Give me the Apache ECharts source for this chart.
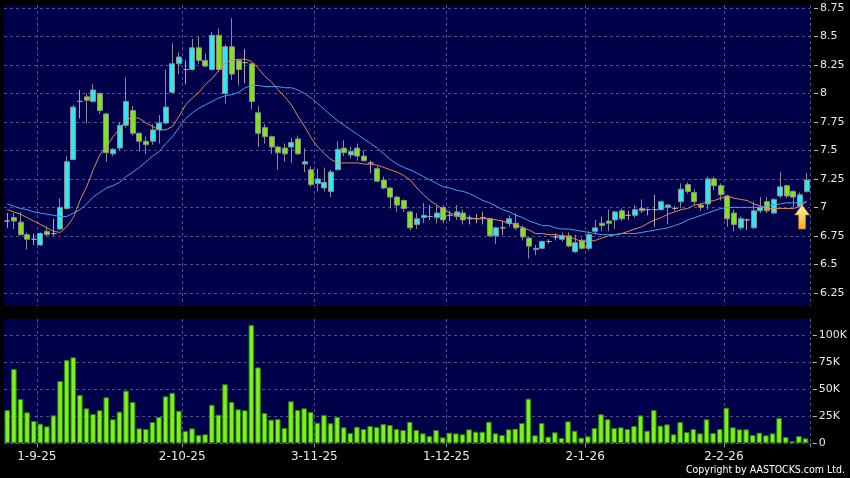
<!DOCTYPE html>
<html>
<head>
<meta charset="utf-8">
<title>Daily chart</title>
<script src="https://cdn.jsdelivr.net/npm/echarts@6/dist/echarts.min.js"></script>
<style>
  html, body { margin: 0; padding: 0; background: #000; }
  #chart { width: 850px; height: 478px; }
</style>
</head>
<body>
<div id="chart"></div>
<script>
// trading days (D-M-YY), 25-8-25 .. 23-2-26
const dates = [
  '25-8-25','26-8-25','27-8-25','28-8-25','29-8-25',
  '1-9-25','2-9-25','3-9-25','4-9-25','5-9-25','8-9-25','9-9-25','10-9-25','11-9-25','12-9-25',
  '15-9-25','16-9-25','17-9-25','18-9-25','19-9-25','22-9-25','23-9-25','24-9-25','25-9-25','26-9-25',
  '29-9-25','30-9-25',
  '2-10-25','3-10-25','6-10-25','8-10-25','9-10-25','10-10-25','13-10-25','14-10-25','15-10-25','16-10-25',
  '17-10-25','20-10-25','21-10-25','22-10-25','23-10-25','24-10-25','27-10-25','28-10-25','30-10-25','31-10-25',
  '3-11-25','4-11-25','5-11-25','6-11-25','7-11-25','10-11-25','11-11-25','12-11-25','13-11-25','14-11-25',
  '17-11-25','18-11-25','19-11-25','20-11-25','21-11-25','24-11-25','25-11-25','26-11-25','27-11-25','28-11-25',
  '1-12-25','2-12-25','3-12-25','4-12-25','5-12-25','8-12-25','9-12-25','10-12-25','11-12-25','12-12-25',
  '15-12-25','16-12-25','17-12-25','18-12-25','19-12-25','22-12-25','23-12-25','24-12-25','29-12-25','30-12-25',
  '31-12-25',
  '2-1-26','5-1-26','6-1-26','7-1-26','8-1-26','9-1-26','12-1-26','13-1-26','14-1-26','15-1-26',
  '16-1-26','19-1-26','20-1-26','21-1-26','22-1-26','23-1-26','26-1-26','27-1-26','28-1-26','29-1-26',
  '30-1-26',
  '2-2-26','3-2-26','4-2-26','5-2-26','6-2-26','9-2-26','10-2-26','11-2-26','12-2-26','13-2-26',
  '16-2-26','20-2-26','23-2-26'
];
const tickDates = ['1-9-25', '2-10-25', '3-11-25', '1-12-25', '2-1-26', '2-2-26'];

const opens = [
  6.88,6.91,6.87,6.76,6.72,6.67,6.79,6.77,6.81,6.99, 7.42,7.93,7.97,7.93,8.00,7.82,7.47,7.52,7.72,7.85,
  7.65,7.58,7.58,7.68,7.74,8.01,8.26,8.21,8.21,8.40, 8.29,8.21,8.51,8.00,8.41,8.29,8.27,8.26,7.83,7.70,
  7.62,7.53,7.52,7.53,7.60,7.38,7.33,7.21,7.17,7.14, 7.33,7.52,7.46,7.52,7.45,7.39,7.34,7.24,7.17,7.09,
  7.06,6.96,6.85,6.91,6.92,6.91,7.00,6.93,6.92,6.95, 6.90,6.90,6.91,6.90,6.75,6.82,6.86,6.86,6.82,6.73,
  6.63,6.64,6.70,6.74,6.72,6.75,6.61,6.71,6.64,6.79, 6.86,6.88,6.89,6.97,6.93,6.93,6.99,6.98,6.98,6.98,
  7.00,6.99,7.05,7.20,7.13,7.02,7.03,7.25,7.19,7.10, 6.95,6.82,6.89,6.82,6.97,7.05,6.95,7.10,7.19,7.14,
  7.01,7.14
];
const closes = [
  6.88,6.88,6.76,6.72,6.72,6.77,6.76,6.77,7.00,7.40, 7.88,7.93,7.94,8.03,7.85,7.48,7.51,7.72,7.93,7.65,
  7.58,7.55,7.68,7.74,7.88,8.26,8.32,8.21,8.40,8.29, 8.24,8.51,8.21,8.41,8.17,8.21,8.27,7.93,7.65,7.62,
  7.53,7.48,7.47,7.57,7.47,7.40,7.20,7.25,7.22,7.31, 7.51,7.48,7.49,7.45,7.41,7.39,7.23,7.17,7.09,7.02,
  6.99,6.82,6.90,6.93,6.92,6.95,6.89,6.93,6.96,6.89, 6.90,6.90,6.91,6.75,6.82,6.82,6.90,6.82,6.74,6.66,
  6.64,6.70,6.70,6.74,6.75,6.66,6.69,6.64,6.76,6.82, 6.84,6.86,6.96,6.90,6.93,6.98,6.97,6.98,6.98,7.05,
  7.02,6.99,7.16,7.14,7.05,7.00,7.25,7.19,7.11,6.90, 6.85,6.90,6.89,6.97,7.00,6.97,7.07,7.18,7.10,7.09,
  7.11,7.24
];
const lows = [
  6.82,6.81,6.75,6.63,6.67,6.66,6.75,6.75,6.80,6.98, 7.42,7.78,7.74,7.92,7.82,7.40,7.45,7.50,7.70,7.63,
  7.49,7.47,7.55,7.56,7.73,8.00,8.17,8.08,8.20,8.26, 8.23,8.20,8.19,7.91,8.12,8.07,8.09,7.86,7.53,7.56,
  7.47,7.33,7.40,7.39,7.46,7.31,7.18,7.14,7.14,7.09, 7.33,7.45,7.43,7.41,7.40,7.30,7.22,7.16,6.99,6.96,
  6.96,6.80,6.81,6.86,6.89,6.86,6.86,6.88,6.89,6.85, 6.85,6.86,6.85,6.74,6.68,6.76,6.83,6.80,6.71,6.55,
  6.58,6.63,6.68,6.71,6.70,6.65,6.60,6.63,6.62,6.76, 6.79,6.79,6.81,6.88,6.89,6.91,6.95,6.93,6.83,6.97,
  6.85,6.97,6.99,7.12,7.02,6.97,6.98,7.15,7.06,6.83, 6.79,6.80,6.80,6.81,6.95,6.95,6.94,7.08,7.08,7.00,
  7.00,7.13
];
const highs = [
  6.95,6.95,6.96,6.78,6.77,6.78,6.83,6.90,7.08,7.45, 7.90,8.03,8.00,8.08,8.01,7.83,7.52,7.75,8.14,7.89,
  7.66,7.62,7.73,7.81,8.21,8.44,8.36,8.29,8.48,8.50, 8.35,8.54,8.57,8.43,8.66,8.30,8.39,8.27,7.89,7.73,
  7.63,7.54,7.56,7.61,7.63,7.52,7.36,7.34,7.35,7.33, 7.58,7.59,7.53,7.56,7.50,7.41,7.36,7.27,7.18,7.10,
  7.07,6.97,6.95,7.04,7.02,7.02,7.02,6.97,7.02,6.98, 6.93,6.94,6.96,6.91,6.83,6.88,6.93,6.95,6.84,6.74,
  6.67,6.71,6.72,6.77,6.78,6.78,6.76,6.73,6.79,6.89, 6.92,6.98,6.97,6.99,6.97,7.02,7.07,6.99,7.11,7.06,
  7.03,7.01,7.21,7.22,7.16,7.04,7.27,7.27,7.21,7.11, 6.98,6.92,6.90,7.05,7.09,7.09,7.08,7.31,7.20,7.15,
  7.13,7.30
];
// moving averages as drawn (orange = short, blue = long)
const maShort = [
  6.98,6.96,6.94,6.91,6.88,6.85,6.82,6.79,6.78,6.83, 6.91,7.06,7.18,7.33,7.46,7.53,7.62,7.69,7.77,7.79,
  7.78,7.74,7.71,7.68,7.68,7.71,7.80,7.90,7.96,8.01, 8.08,8.13,8.20,8.27,8.29,8.30,8.30,8.28,8.22,8.15,
  8.10,8.03,7.97,7.90,7.80,7.71,7.61,7.53,7.47,7.42, 7.39,7.39,7.39,7.39,7.38,7.38,7.37,7.35,7.33,7.31,
  7.28,7.24,7.17,7.11,7.06,7.02,6.98,6.95,6.93,6.91, 6.91,6.90,6.90,6.90,6.89,6.88,6.86,6.85,6.82,6.80,
  6.77,6.77,6.76,6.76,6.75,6.74,6.72,6.70,6.70,6.71, 6.73,6.75,6.76,6.77,6.79,6.81,6.83,6.86,6.89,6.91,
  6.94,6.96,6.98,6.99,7.02,7.03,7.05,7.06,7.08,7.10, 7.08,7.07,7.06,7.03,7.01,6.99,6.99,6.99,6.99,6.99,
  7.01,7.05
];
const maLong = [
  7.03,7.01,6.99,6.98,6.96,6.95,6.94,6.93,6.92,6.92, 6.95,6.98,7.03,7.09,7.13,7.17,7.19,7.22,7.27,7.31,
  7.35,7.40,7.45,7.49,7.56,7.62,7.70,7.78,7.83,7.87, 7.90,7.93,7.96,7.98,7.99,8.01,8.05,8.07,8.07,8.06,
  8.06,8.06,8.05,8.05,8.03,8.00,7.96,7.91,7.86,7.81, 7.76,7.72,7.68,7.64,7.60,7.56,7.52,7.47,7.42,7.38,
  7.35,7.33,7.30,7.27,7.24,7.21,7.18,7.17,7.15,7.14, 7.12,7.09,7.06,7.04,7.01,6.98,6.96,6.93,6.91,6.88,
  6.86,6.84,6.84,6.82,6.81,6.81,6.80,6.79,6.78,6.77, 6.76,6.76,6.76,6.77,6.77,6.77,6.78,6.79,6.80,6.81,
  6.82,6.84,6.86,6.89,6.91,6.93,6.95,6.97,6.99,7.00, 7.00,7.00,7.00,7.00,7.00,7.01,7.02,7.03,7.04,7.04,
  7.04,7.05
];
// volume in thousands of shares
const volumes = [
  30.7,68.6,40.9,28.6,20.6,18.1,15.7,25.8,57.5,76.9, 79.4,44.6,32.3,27.0,30.5,42.5,22.2,29.2,48.6,38.1,
  13.8,13.2,19.7,24.3,43.4,46.7,30.1,11.4,13.8,7.7, 8.3,35.6,26.4,54.5,38.1,31.4,30.5,109.2,70.1,28.0,
  21.8,22.4,14.1,38.8,30.7,32.3,28.9,19.0,26.1,18.5, 24.3,14.8,9.5,15.3,13.2,16.0,15.0,17.8,16.9,13.2,
  12.3,19.9,12.3,9.2,6.7,12.3,5.5,9.8,9.2,8.3, 12.9,10.7,10.7,19.9,9.2,7.7,12.9,13.5,18.7,41.2,
  7.4,18.7,6.1,10.2,4.9,20.3,11.6,5.2,6.5,14.1, 26.8,22.2,14.1,14.8,13.2,16.0,25.8,11.6,30.7,16.3,
  17.5,8.3,19.7,10.4,13.2,9.2,22.2,9.5,13.2,32.9, 14.8,12.9,12.9,7.7,9.8,7.4,9.2,23.4,5.8,2.1,
  6.7,4.6
];
const arrowAt = { date: '20-2-26', price: 6.915 };

const NAVY = '#00004a';
const gridLine = { color: '#50508a', type: [3, 3], width: 1 };
const axisFont = { color: '#e8e8e8', fontFamily: 'DejaVu Sans', fontSize: 11 };

function isTick(index) {
  return tickDates.indexOf(dates[index]) >= 0;
}

const candles = dates.map((d, i) => [opens[i], closes[i], lows[i], highs[i]]);

const chart = echarts.init(document.getElementById('chart'));
chart.setOption({
  backgroundColor: '#000000',
  animation: false,
  grid: [
    // 0: price panel background, 1: price data, 2: volume background, 3: volume data
    { left: 4, right: 40, top: 5, height: 301, show: true, backgroundColor: NAVY, borderWidth: 0 },
    { left: 4, right: 40, top: 8, height: 284.8 },
    { left: 4, right: 40, top: 319, height: 124.3, show: true, backgroundColor: NAVY, borderWidth: 0 },
    { left: 4, right: 40, top: 335, height: 108.3 }
  ],
  xAxis: [
    {
      gridIndex: 0, type: 'category', data: dates,
      axisLine: { show: false }, axisTick: { show: false }, axisLabel: { show: false },
      splitLine: { show: true, interval: isTick, lineStyle: gridLine }
    },
    { gridIndex: 1, type: 'category', data: dates, show: false },
    {
      gridIndex: 2, type: 'category', data: dates,
      axisLine: { show: false },
      axisTick: { show: true, interval: isTick, length: 4, lineStyle: { color: '#9a9a9a' } },
      axisLabel: Object.assign({}, axisFont, { interval: isTick, margin: 8, fontSize: 12, padding: [0, 7, 0, 0] }),
      splitLine: { show: true, interval: isTick, lineStyle: gridLine }
    },
    { gridIndex: 3, type: 'category', data: dates, show: false }
  ],
  yAxis: [
    { gridIndex: 0, type: 'value', show: false },
    {
      gridIndex: 1, type: 'value', position: 'right', offset: 4,
      min: 6.25, max: 8.75, interval: 0.25,
      axisLine: { show: false },
      axisTick: { show: true, length: 4, lineStyle: { color: '#bbbbbb' } },
      axisLabel: Object.assign({ margin: 6 }, axisFont),
      splitLine: { show: true, lineStyle: gridLine }
    },
    { gridIndex: 2, type: 'value', show: false },
    {
      gridIndex: 3, type: 'value', position: 'right', offset: 4,
      min: 0, max: 100, interval: 25,
      axisLine: { show: false },
      axisTick: { show: true, length: 4, lineStyle: { color: '#bbbbbb' } },
      axisLabel: Object.assign({
        margin: 6,
        formatter: v => (v === 0 ? '0' : v + 'K')
      }, axisFont),
      splitLine: { show: true, lineStyle: gridLine }
    }
  ],
  series: [
    {
      name: 'price', type: 'candlestick', xAxisIndex: 1, yAxisIndex: 1,
      data: candles, barWidth: 5.5,
      itemStyle: {
        color: '#30e6f0', color0: '#7ee41e',
        borderColor: '#8c8c8c', borderColor0: '#8c8c8c', borderColorDoji: '#a8a8a8',
        borderWidth: 1
      },
      markPoint: {
        symbol: 'path://M7.5,0 L15,10 L11,10 L11,24 L4,24 L4,10 L0,10 Z',
        symbolSize: [15, 24],
        symbolOffset: [2, 0],
        label: { show: false },
        itemStyle: {
          color: new echarts.graphic.LinearGradient(0, 0, 0, 1, [
            { offset: 0, color: '#fff4a8' },
            { offset: 1, color: '#f0a818' }
          ]),
          borderColor: '#c88a00', borderWidth: 0.5
        },
        data: [{ coord: [arrowAt.date, arrowAt.price] }]
      }
    },
    {
      name: 'MA short', type: 'line', xAxisIndex: 1, yAxisIndex: 1, data: maShort,
      showSymbol: false, lineStyle: { color: '#e08a52', width: 1 }
    },
    {
      name: 'MA long', type: 'line', xAxisIndex: 1, yAxisIndex: 1, data: maLong,
      showSymbol: false, lineStyle: { color: '#3ea4ea', width: 1 }
    },
    {
      name: 'volume', type: 'bar', xAxisIndex: 3, yAxisIndex: 3, data: volumes,
      barWidth: 5.6, clip: false,
      itemStyle: { color: '#7cf21c', borderColor: '#2f7f0c', borderWidth: 1 }
    }
  ],
  graphic: [
    {
      type: 'text', right: 5, top: 465,
      style: {
        text: 'Copyright by AASTOCKS.com Ltd.',
        fill: '#ffffff',
        font: '10.5px "DejaVu Sans Condensed", "Liberation Sans", sans-serif'
      }
    }
  ]
});
</script>
</body>
</html>
